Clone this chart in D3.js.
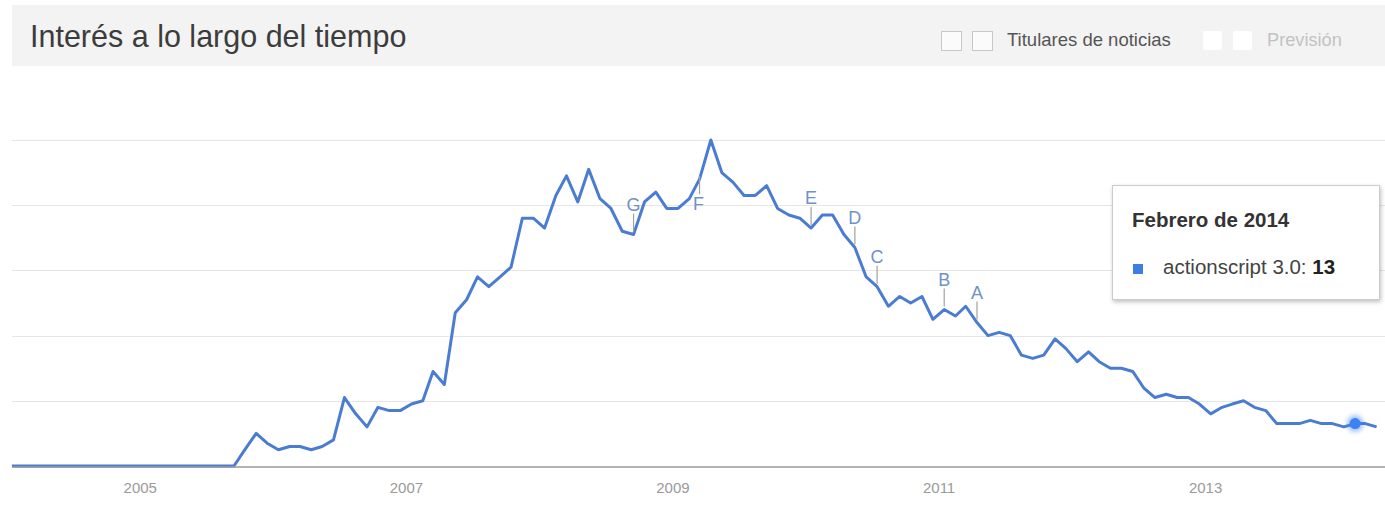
<!DOCTYPE html>
<html>
<head>
<meta charset="utf-8">
<script src="https://cdn.jsdelivr.net/npm/d3@7"></script>
<style>
  html, body { margin: 0; padding: 0; background: #ffffff; }
  svg { display: block; font-family: Arial, "Liberation Sans", sans-serif; }
</style>
</head>
<body>
<svg id="chart" width="1385" height="516"></svg>
<script>
// ---------- DATA ----------
const startYear = 2004;           // first month = January 2004
const seriesName = "actionscript 3.0";
// monthly interest values, Jan 2004 .. Apr 2014
const values = [
  0,0,0,0,0,0,0,0,0,0,0,0,          // 2004
  0,0,0,0,0,0,0,0,0,5,10,7,         // 2005
  5,6,6,5,6,8,21,16,12,18,17,17,    // 2006
  19,20,29,25,47,51,58,55,58,61,76,76, // 2007
  73,83,89,81,91,82,79,72,71,81,84,79, // 2008
  79,82,88,100,90,87,83,83,86,79,77,76, // 2009
  73,77,77,71,67,58,55,49,52,50,52,45, // 2010
  48,46,49,44,40,41,40,34,33,34,39,36, // 2011
  32,35,32,30,30,29,24,21,22,21,21,19, // 2012
  16,18,19,20,18,17,13,13,13,14,13,13, // 2013
  12,13,13,12                          // 2014
];
const yTicks = [0, 20, 40, 60, 80, 100];
const xTickYears = [2005, 2007, 2009, 2011, 2013];
// news headline markers: label and month index
const annLabels = ["G", "F", "E", "D", "C", "B", "A"];
const annMonths = [56, 62, 72, 76, 78, 84, 87];
const annBelow  = [false, true, false, false, false, false, false];
const tooltipTitle = "Febrero de 2014";
const tooltipMonth = 121;
const titleText = "Interés a lo largo del tiempo";
const legendLabels = ["Titulares de noticias", "Previsión"];

// ---------- SETUP ----------
const svg = d3.select("#chart");
const W = 1385, H = 516;
const plotLeft = 12, plotRight = 1385;

const monthDate = i => new Date(startYear, i, 15);
const data = values.map((v, i) => ({ date: monthDate(i), value: v }));

const x = d3.scaleTime()
  .domain([new Date(2004, 0, 1), new Date(2014, 0, 1)])
  .range([6.8, 1338.7]);
const y = d3.scaleLinear().domain([0, 100]).range([466, 140]);

// ---------- HEADER ----------
svg.append("rect").attr("x", 12).attr("y", 5).attr("width", W - 12).attr("height", 61)
  .attr("fill", "#f3f3f3");
svg.append("text").attr("x", 30).attr("y", 47)
  .attr("font-size", 30.5).attr("fill", "#3c3c3c").text(titleText);

// checkboxes
[941, 972].forEach(cx => {
  svg.append("rect").attr("x", cx + 0.5).attr("y", 31.5).attr("width", 20).attr("height", 19)
    .attr("fill", "#fbfbfb").attr("stroke", "#c8c8c8").attr("stroke-width", 1);
});
svg.append("text").attr("x", 1007).attr("y", 46).attr("font-size", 18.5)
  .attr("fill", "#555").text(legendLabels[0]);
[1203, 1233].forEach(cx => {
  svg.append("rect").attr("x", cx).attr("y", 31).attr("width", 19).attr("height", 19)
    .attr("rx", 2).attr("fill", "#ffffff");
});
svg.append("text").attr("x", 1267).attr("y", 46).attr("font-size", 18.2)
  .attr("fill", "#c2c2c2").text(legendLabels[1]);

// ---------- GRID ----------
svg.append("g").selectAll("line").data(yTicks.filter(t => t > 0)).join("line")
  .attr("x1", plotLeft).attr("x2", plotRight)
  .attr("y1", d => Math.round(y(d)) + 0.5).attr("y2", d => Math.round(y(d)) + 0.5)
  .attr("stroke", "#e6e6e6").attr("stroke-width", 1);

// x axis labels
svg.append("g").selectAll("text").data(xTickYears).join("text")
  .attr("x", d => x(new Date(d, 0, 1)))
  .attr("y", 493)
  .attr("text-anchor", "middle")
  .attr("font-size", 15).attr("fill", "#9a9a9a")
  .text(d => d);

// ---------- LINE ----------
const line = d3.line().x(d => x(d.date)).y(d => y(d.value));
svg.append("path").datum(data).attr("d", line)
  .attr("fill", "none").attr("stroke", "#4a7cd2").attr("stroke-width", 3)
  .attr("stroke-linejoin", "round");

// baseline
svg.append("line").attr("x1", plotLeft).attr("x2", plotRight)
  .attr("y1", y(0) + 1).attr("y2", y(0) + 1)
  .attr("stroke", "#9a9a9a").attr("stroke-width", 1.5);

// ---------- ANNOTATIONS ----------
const ann = svg.append("g");
annLabels.forEach((lab, i) => {
  const d = data[annMonths[i]];
  const px = x(d.date), py = y(d.value);
  if (!annBelow[i]) {
    ann.append("line").attr("x1", px).attr("x2", px)
      .attr("y1", py - 3).attr("y2", py - 21)
      .attr("stroke", "#a0a0a0").attr("stroke-width", 1.2);
    ann.append("text").attr("x", px).attr("y", py - 24)
      .attr("text-anchor", "middle").attr("font-size", 18)
      .attr("fill", "#7290c8").text(lab);
  } else {
    ann.append("line").attr("x1", px).attr("x2", px)
      .attr("y1", py - 3).attr("y2", py + 15)
      .attr("stroke", "#a0a0a0").attr("stroke-width", 1.2);
    ann.append("text").attr("x", px - 1).attr("y", py + 31)
      .attr("text-anchor", "middle").attr("font-size", 18)
      .attr("fill", "#7290c8").text(lab);
  }
});

// ---------- HOVER DOT ----------
const defs = svg.append("defs");
const f = defs.append("filter").attr("id", "blur").attr("x", "-100%").attr("y", "-100%")
  .attr("width", "300%").attr("height", "300%");
f.append("feGaussianBlur").attr("stdDeviation", 2.5);
const sh = defs.append("filter").attr("id", "shadow").attr("x", "-10%").attr("y", "-10%")
  .attr("width", "130%").attr("height", "140%");
sh.append("feDropShadow").attr("dx", 1).attr("dy", 2).attr("stdDeviation", 2)
  .attr("flood-color", "#000").attr("flood-opacity", 0.25);

const td = data[tooltipMonth];
svg.append("circle").attr("cx", x(td.date)).attr("cy", y(td.value)).attr("r", 8)
  .attr("fill", "#3d82f2").attr("opacity", 0.55).attr("filter", "url(#blur)");
svg.append("circle").attr("cx", x(td.date)).attr("cy", y(td.value)).attr("r", 5.5)
  .attr("fill", "#3d82f2");

// ---------- TOOLTIP ----------
const tt = svg.append("g");
tt.append("rect").attr("x", 1112.5).attr("y", 185.5).attr("width", 267).attr("height", 114)
  .attr("fill", "#ffffff").attr("stroke", "#cccccc").attr("stroke-width", 1)
  .attr("filter", "url(#shadow)");
tt.append("text").attr("x", 1132).attr("y", 227).attr("font-size", 20.5)
  .attr("font-weight", "bold").attr("fill", "#333").text(tooltipTitle);
tt.append("rect").attr("x", 1133).attr("y", 264).attr("width", 10).attr("height", 10)
  .attr("fill", "#3d7fe0");
const t2 = tt.append("text").attr("x", 1163).attr("y", 274).attr("font-size", 20.5).attr("fill", "#444");
t2.append("tspan").text(seriesName + ": ");
t2.append("tspan").attr("font-weight", "bold").attr("fill", "#222").text(td.value);
</script>
</body>
</html>
